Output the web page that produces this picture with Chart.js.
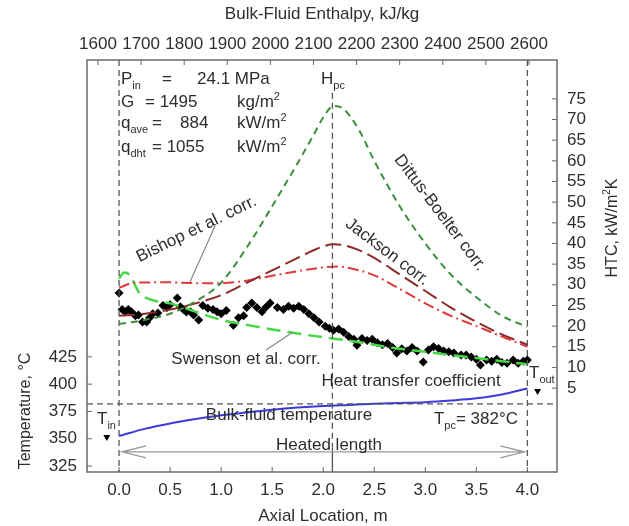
<!DOCTYPE html>
<html>
<head>
<meta charset="utf-8">
<script src="https://cdn.jsdelivr.net/npm/chart.js@4.4.1/dist/chart.umd.min.js"></script>
<style>
  html, body { margin: 0; padding: 0; background: #fff; }
  #chart { display: block; }
</style>
</head>
<body>
<canvas id="chart" width="629" height="526"></canvas>
<script>
/*** Data ***/
// axial location, m
const corrX = [0, 0.25, 0.5, 0.75, 1.0, 1.25, 1.5, 1.75, 1.9, 2.0, 2.1, 2.2, 2.35, 2.5, 2.75, 3.0, 3.25, 3.5, 3.75, 4.0];
const dittusHTC = [20.5, 21.5, 23, 26, 30.5, 39, 49, 59.5, 66, 70.5, 73.3, 72.5, 67.5, 60, 49, 40, 32.5, 27, 22.5, 19.8];
const jacksonHTC = [22.5, 23, 24, 25.5, 27.5, 30.5, 33.5, 36.5, 38.3, 39.3, 39.8, 39.6, 38.4, 36.5, 32.5, 28.5, 24.5, 21, 18, 15.5];
const bishopX = [0, 0.15, 0.5, 0.75, 1.0, 1.25, 1.5, 1.75, 2.0, 2.15, 2.35, 2.5, 2.75, 3.0, 3.25, 3.5, 3.75, 4.0];
const bishopHTC = [29.3, 30.5, 30.6, 30.4, 30.4, 31, 32.2, 33.3, 34.2, 34.4, 33.5, 32.3, 29, 25.5, 22.5, 20, 17.5, 15];
const swensonX = [0, 0.05, 0.1, 0.2, 0.3, 0.5, 0.75, 1.0, 1.25, 1.5, 1.75, 2.0, 2.25, 2.5, 2.75, 3.0, 3.25, 3.5, 3.75, 4.0];
const swensonHTC = [31.5, 33, 32.5, 28, 26.5, 25.5, 23.5, 21.5, 20.3, 19.2, 18.2, 17.3, 16.5, 15.5, 14.5, 13.8, 13, 12.3, 11.5, 10.8];

const expX = [0.00, 0.03, 0.06, 0.09, 0.12, 0.16, 0.19, 0.23, 0.27, 0.30, 0.33, 0.38, 0.43, 0.47, 0.50, 0.57, 0.60, 0.63, 0.66, 0.70,
  0.73, 0.78, 0.82, 0.87, 0.92, 0.96, 1.00, 1.05, 1.12, 1.17, 1.22, 1.25, 1.30, 1.35, 1.40, 1.44, 1.48, 1.55, 1.61, 1.66,
  1.71, 1.76, 1.81, 1.86, 1.91, 1.96, 2.02, 2.06, 2.10, 2.15, 2.20, 2.25, 2.30, 2.33, 2.38, 2.43, 2.48, 2.53, 2.58, 2.63,
  2.68, 2.72, 2.77, 2.82, 2.87, 2.92, 2.98, 3.03, 3.08, 3.13, 3.18, 3.23, 3.28, 3.35, 3.40, 3.45, 3.50, 3.54, 3.60, 3.65,
  3.70, 3.75, 3.80, 3.86, 3.91, 3.96, 4.00];
const expHTC = [28.0, 24.0, 23.5, 24.0, 23.5, 22.5, 22.7, 21.0, 21.0, 22.0, 23.0, 23.2, 25.0, 24.5, 25.2, 26.8, 24.7, 24.0, 23.4, 23.5,
  22.7, 21.5, 25.0, 24.3, 24.0, 23.5, 23.0, 23.8, 20.2, 22.0, 22.5, 24.5, 25.6, 24.5, 23.5, 24.6, 25.6, 24.5, 24.0, 24.8,
  24.3, 24.8, 24.0, 23.0, 22.0, 21.0, 20.0, 19.5, 19.0, 19.3, 18.5, 17.5, 16.8, 15.4, 17.0, 16.5, 16.8, 16.0, 15.5, 15.8,
  14.8, 13.5, 14.5, 14.0, 14.8, 14.0, 11.3, 14.2, 15.0, 14.6, 14.0, 13.8, 13.5, 13.0, 13.0, 12.5, 12.0, 10.6, 11.8, 11.5,
  12.0, 11.2, 11.0, 11.8, 11.0, 11.5, 11.8];

const bulkX = [0, 0.25, 0.5, 0.75, 1.0, 1.25, 1.5, 1.75, 2.0, 2.25, 2.5, 2.75, 3.0, 3.25, 3.5, 3.75, 4.0];
const bulkT = [352.5, 359, 364, 368, 371.5, 374, 376.5, 378.5, 380, 381, 382, 382.7, 383.5, 385, 387, 390.5, 396];
const inletOutletX = [-0.12, 4.1];
const inletOutletT = [351.6, 393.7];

// axes
const axialTicks = [0, 0.5, 1.0, 1.5, 2.0, 2.5, 3.0, 3.5, 4.0];
const enthalpyTicks = [1600, 1700, 1800, 1900, 2000, 2100, 2200, 2300, 2400, 2500, 2600];
const tempTicks = [325, 350, 375, 400, 425];
const htcTicks = [5, 10, 15, 20, 25, 30, 35, 40, 45, 50, 55, 60, 65, 70, 75];

// reference lines
const heatedEnds = [0, 4.0];
const hpcX = 2.09;
const tpcT = 382;

/*** Helpers ***/
const FONT = '"Liberation Sans", Arial, sans-serif';
const TXT = '#2e2e2e';

function pairs(xs, ys) {
    return xs.map((x, i) => ({ x: x, y: ys[i] }));
}

// parts: [text, 'n' | 'sub' | 'sup']
function richText(ctx, x, y, parts, size, align) {
    const small = Math.round(size * 0.62);
    let w = 0;
    parts.forEach(p => {
        ctx.font = (p[1] === 'n' ? size : small) + 'px ' + FONT;
        w += ctx.measureText(p[0]).width;
    });
    let cx = align === 'center' ? x - w / 2 : x;
    ctx.textBaseline = 'alphabetic';
    ctx.textAlign = 'left';
    parts.forEach(p => {
        let dy = 0;
        if (p[1] === 'sub') dy = size * 0.28;
        if (p[1] === 'sup') dy = -size * 0.42;
        ctx.font = (p[1] === 'n' ? size : small) + 'px ' + FONT;
        ctx.fillText(p[0], cx, y + dy);
        cx += ctx.measureText(p[0]).width;
    });
}

function fixedTicks(values) {
    return function (scale) {
        scale.ticks = values.map(v => ({ value: v }));
    };
}

/*** Annotation plugin ***/
const annotations = {
    id: 'annotations',
    afterDraw(chart) {
        const ctx = chart.ctx;
        const a = chart.chartArea;
        const sx = chart.scales.x, sx2 = chart.scales.x2, sT = chart.scales.yT, sH = chart.scales.yH;
        ctx.save();

        // inward ticks
        ctx.strokeStyle = '#666';
        ctx.lineWidth = 1;
        ctx.beginPath();
        sx.ticks.forEach(t => { const p = sx.getPixelForValue(t.value); ctx.moveTo(p, a.bottom); ctx.lineTo(p, a.bottom - 5); });
        sx2.ticks.forEach(t => { const p = sx2.getPixelForValue(t.value); ctx.moveTo(p, a.top); ctx.lineTo(p, a.top + 5); });
        sT.ticks.forEach(t => { const p = sT.getPixelForValue(t.value); ctx.moveTo(a.left, p); ctx.lineTo(a.left + 5, p); });
        sH.ticks.forEach(t => { const p = sH.getPixelForValue(t.value); ctx.moveTo(a.right, p); ctx.lineTo(a.right - 5, p); });
        ctx.stroke();

        // dashed reference lines
        ctx.strokeStyle = '#555';
        ctx.lineWidth = 1.3;
        ctx.setLineDash([6, 4]);
        ctx.beginPath();
        heatedEnds.forEach(v => { const p = sx.getPixelForValue(v); ctx.moveTo(p, a.top); ctx.lineTo(p, a.bottom); });
        const hp = sx.getPixelForValue(hpcX);
        ctx.moveTo(hp, sH.getPixelForValue(76.5));
        ctx.lineTo(hp, sT.getPixelForValue(342));
        const tp = sT.getPixelForValue(tpcT);
        ctx.moveTo(a.left, tp); ctx.lineTo(a.right, tp);
        ctx.stroke();
        ctx.setLineDash([]);
        ctx.beginPath();
        ctx.moveTo(hp, sT.getPixelForValue(342));
        ctx.lineTo(hp, a.bottom);
        ctx.stroke();

        // heated length arrow
        const ay = sT.getPixelForValue(338);
        const ax0 = sx.getPixelForValue(0.03), ax1 = sx.getPixelForValue(3.97);
        ctx.strokeStyle = '#999';
        ctx.lineWidth = 1.3;
        ctx.beginPath();
        ctx.moveTo(ax0, ay); ctx.lineTo(ax1, ay);
        ctx.moveTo(ax0 + 24, ay - 6); ctx.lineTo(ax0, ay); ctx.lineTo(ax0 + 24, ay + 6);
        ctx.moveTo(ax1 - 24, ay - 6); ctx.lineTo(ax1, ay); ctx.lineTo(ax1 - 24, ay + 6);
        ctx.stroke();

        // leader lines
        ctx.strokeStyle = '#888';
        ctx.lineWidth = 1.2;
        ctx.beginPath();
        ctx.moveTo(215, 226); ctx.lineTo(190, 282);
        ctx.moveTo(266, 350); ctx.lineTo(293, 332);
        ctx.stroke();

        // border
        ctx.strokeStyle = '#6a6a6a';
        ctx.lineWidth = 1.5;
        ctx.strokeRect(a.left, a.top, a.right - a.left, a.bottom - a.top);

        // texts
        ctx.fillStyle = TXT;
        richText(ctx, 121, 84, [['P', 'n'], ['in', 'sub']], 17, 'left');
        richText(ctx, 162, 84, [['=', 'n']], 17, 'left');
        richText(ctx, 197, 84, [['24.1 MPa', 'n']], 17, 'left');
        richText(ctx, 121, 107, [['G', 'n']], 17, 'left');
        richText(ctx, 145, 107, [['= 1495', 'n']], 17, 'left');
        richText(ctx, 237, 107, [['kg/m', 'n'], ['2', 'sup']], 17, 'left');
        richText(ctx, 121, 128, [['q', 'n'], ['ave', 'sub']], 17, 'left');
        richText(ctx, 152, 128, [['=', 'n']], 17, 'left');
        richText(ctx, 180, 128, [['884', 'n']], 17, 'left');
        richText(ctx, 237, 128, [['kW/m', 'n'], ['2', 'sup']], 17, 'left');
        richText(ctx, 121, 152, [['q', 'n'], ['dht', 'sub']], 17, 'left');
        richText(ctx, 152, 152, [['= 1055', 'n']], 17, 'left');
        richText(ctx, 237, 152, [['kW/m', 'n'], ['2', 'sup']], 17, 'left');
        richText(ctx, 321, 84, [['H', 'n'], ['pc', 'sub']], 17, 'left');

        richText(ctx, 411, 386, [['Heat transfer coefficient', 'n']], 17, 'center');
        richText(ctx, 289, 420, [['Bulk-fluid temperature', 'n']], 17, 'center');
        richText(ctx, 476, 424, [['T', 'n'], ['pc', 'sub'], ['= 382°C', 'n']], 17, 'center');
        richText(ctx, 97, 424, [['T', 'n'], ['in', 'sub']], 17, 'left');
        richText(ctx, 529, 378, [['T', 'n'], ['out', 'sub']], 17, 'left');
        richText(ctx, 329, 450, [['Heated length', 'n']], 17, 'center');
        richText(ctx, 246, 364, [['Swenson et al. corr.', 'n']], 17, 'center');

        const rotated = [
            ['Dittus-Boelter corr.', 441, 212, 53],
            ['Jackson corr.', 388, 251, 37],
            ['Bishop et al. corr.', 196, 228, -26]
        ];
        rotated.forEach(r => {
            ctx.save();
            ctx.translate(r[1], r[2]);
            ctx.rotate(r[3] * Math.PI / 180);
            richText(ctx, 0, 6, [[r[0], 'n']], 17, 'center');
            ctx.restore();
        });

        // axis titles
        richText(ctx, 322, 19, [['Bulk-Fluid Enthalpy, kJ/kg', 'n']], 17, 'center');
        richText(ctx, 323, 521, [['Axial Location, m', 'n']], 17, 'center');
        ctx.save();
        ctx.translate(30, 411);
        ctx.rotate(-Math.PI / 2);
        richText(ctx, 0, 0, [['Temperature, °C', 'n']], 16, 'center');
        ctx.restore();
        ctx.save();
        ctx.translate(617, 228);
        ctx.rotate(-Math.PI / 2);
        richText(ctx, 0, 0, [['HTC, kW/m', 'n'], ['2', 'sup'], ['K', 'n']], 16, 'center');
        ctx.restore();

        ctx.restore();
    }
};

/*** Chart ***/
Chart.defaults.font.family = FONT;
Chart.defaults.color = TXT;

const tickFont = { size: 17 };

new Chart(document.getElementById('chart').getContext('2d'), {
    type: 'scatter',
    data: {
        datasets: [
            {
                label: 'Bulk-fluid temperature',
                data: pairs(bulkX, bulkT),
                yAxisID: 'yT',
                showLine: true,
                borderColor: '#3b3bdc',
                borderWidth: 2,
                pointRadius: 0,
                cubicInterpolationMode: 'monotone'
            },
            {
                label: 'Dittus-Boelter corr.',
                data: pairs(corrX, dittusHTC),
                yAxisID: 'yH',
                showLine: true,
                borderColor: '#3c8f3c',
                borderWidth: 2,
                borderDash: [7, 5],
                pointRadius: 0,
                cubicInterpolationMode: 'monotone'
            },
            {
                label: 'Jackson corr.',
                data: pairs(corrX, jacksonHTC),
                yAxisID: 'yH',
                showLine: true,
                borderColor: '#8e2a2a',
                borderWidth: 2,
                borderDash: [16, 6],
                pointRadius: 0,
                cubicInterpolationMode: 'monotone'
            },
            {
                label: 'Bishop et al. corr.',
                data: pairs(bishopX, bishopHTC),
                yAxisID: 'yH',
                showLine: true,
                borderColor: '#e23a3a',
                borderWidth: 2,
                borderDash: [11, 4, 2, 4],
                pointRadius: 0,
                cubicInterpolationMode: 'monotone'
            },
            {
                label: 'Swenson et al. corr.',
                data: pairs(swensonX, swensonHTC),
                yAxisID: 'yH',
                showLine: true,
                borderColor: '#46d846',
                borderWidth: 2.5,
                borderDash: [14, 7],
                pointRadius: 0,
                cubicInterpolationMode: 'monotone'
            },
            {
                label: 'HTC experimental',
                data: pairs(expX, expHTC),
                yAxisID: 'yH',
                pointStyle: 'rectRot',
                pointRadius: 4.5,
                backgroundColor: '#000',
                borderColor: '#000',
                borderWidth: 0
            },
            {
                label: 'Tin / Tout',
                data: pairs(inletOutletX, inletOutletT),
                yAxisID: 'yT',
                pointStyle: 'triangle',
                rotation: 180,
                pointRadius: 4,
                backgroundColor: '#000',
                borderColor: '#000',
                borderWidth: 0
            }
        ]
    },
    options: {
        responsive: false,
        animation: false,
        layout: { padding: 0 },
        plugins: {
            legend: { display: false },
            tooltip: { enabled: false }
        },
        scales: {
            x: {
                type: 'linear',
                position: 'bottom',
                min: -0.314,
                max: 4.29,
                afterBuildTicks: fixedTicks(axialTicks),
                afterFit: s => { s.height = 54; },
                grid: { display: false, drawTicks: false },
                border: { display: false },
                ticks: { font: tickFont, padding: 8, maxRotation: 0, autoSkip: false, callback: v => v.toFixed(1) }
            },
            x2: {
                type: 'linear',
                position: 'top',
                display: true,
                min: 1574.5,
                max: 2665,
                afterBuildTicks: fixedTicks(enthalpyTicks),
                afterFit: s => { s.height = 60; },
                grid: { display: false, drawTicks: false },
                border: { display: false },
                ticks: { font: tickFont, padding: 5, maxRotation: 0, autoSkip: false, callback: v => String(v) }
            },
            yT: {
                type: 'linear',
                position: 'left',
                min: 319.5,
                max: 697,
                afterBuildTicks: fixedTicks(tempTicks),
                afterFit: s => { s.width = 87; },
                grid: { display: false, drawTicks: false },
                border: { display: false },
                ticks: { font: tickFont, padding: 10, autoSkip: false }
            },
            yH: {
                type: 'linear',
                position: 'right',
                min: -15.3,
                max: 84.4,
                afterBuildTicks: fixedTicks(htcTicks),
                afterFit: s => { s.width = 72; },
                grid: { display: false, drawTicks: false },
                border: { display: false },
                ticks: { font: tickFont, padding: 10, autoSkip: false }
            }
        }
    },
    plugins: [annotations]
});
</script>
</body>
</html>
